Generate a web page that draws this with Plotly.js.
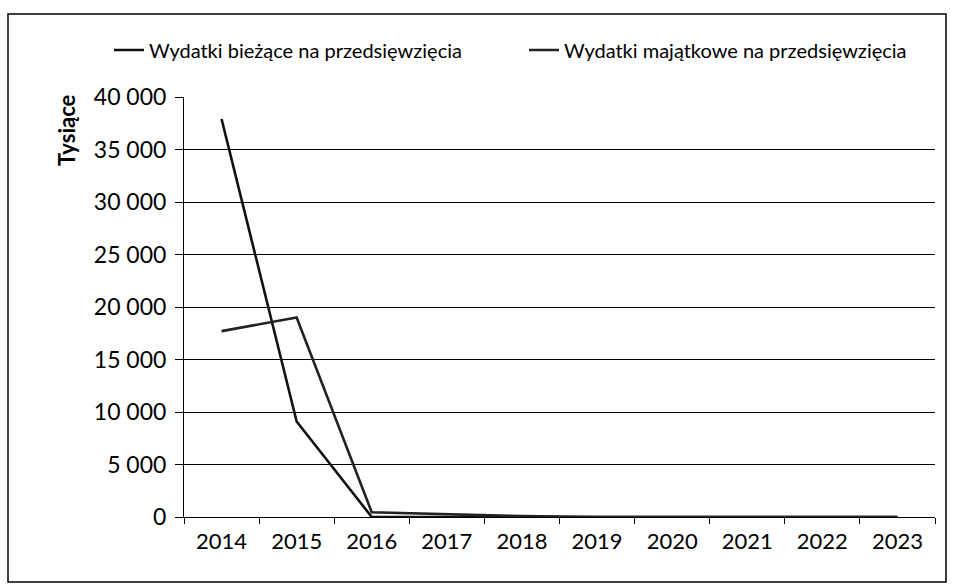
<!DOCTYPE html>
<html>
<head>
<meta charset="utf-8">
<script src="https://cdn.plot.ly/plotly-3.0.1.min.js"></script>
<style>html,body{margin:0;padding:0;background:#fff;}#chart{width:955px;height:587px;}</style>
</head>
<body>
<div id="chart"></div>
<script>
const years = ['2014','2015','2016','2017','2018','2019','2020','2021','2022','2023'];
const biezace = [37900, 9100, 0, 0, 0, 0, 0, 0, 0, 0];
const majatkowe = [17700, 19000, 450, 250, 80, 0, 0, 0, 0, 0];
const seriesNames = ['Wydatki bieżące na przedsięwzięcia', 'Wydatki majątkowe na przedsięwzięcia'];
const yTitle = 'Tysiące';

const L = 184, R = 20, T = 97, B = 70, W = 955, H = 587;
const pw = W - L - R, ph = H - T - B;
const px = v => (v - L) / pw;
const py = v => (H - B - v) / ph;

const traces = [
  {x: years, y: biezace, name: seriesNames[0], type: 'scatter', mode: 'lines',
   line: {color: '#111', width: 2.6}, legend: 'legend'},
  {x: years, y: majatkowe, name: seriesNames[1], type: 'scatter', mode: 'lines',
   line: {color: '#222', width: 2.6}, legend: 'legend2'}
];

const legBase = {orientation: 'h', xref: 'container', yref: 'container',
  y: 1 - 50/587, xanchor: 'left', yanchor: 'middle',
  font: {size: 20, family: 'Lato, sans-serif'}, bgcolor: 'rgba(0,0,0,0)'};

const layout = {
  width: W, height: H,
  margin: {l: L, r: R, t: T, b: B},
  paper_bgcolor: '#fff', plot_bgcolor: '#fff',
  separators: ', ',
  font: {family: 'Lato, sans-serif', color: '#000', size: 21},
  showlegend: true,
  legend: Object.assign({}, legBase, {x: 109/955}),
  legend2: Object.assign({}, legBase, {x: 524/955}),
  xaxis: {type: 'category', range: [-0.5, 9.5], showline: true, linecolor: '#000', linewidth: 1,
          ticks: 'outside', tickson: 'boundaries', ticklen: 6, tickcolor: '#000',
          showgrid: false, zeroline: false, tickfont: {size: 22}, ticklabelstandoff: 5},
  yaxis: {range: [0, 40000], dtick: 5000, tickformat: ',d',
          showline: true, linecolor: '#000', linewidth: 1,
          ticks: 'outside', ticklen: 8, tickcolor: '#000',
          showgrid: true, gridcolor: '#000', gridwidth: 1, zeroline: false,
          tickfont: {size: 23}, ticklabelstandoff: 4},
  annotations: [
    {text: '<b>' + yTitle + '</b>', xref: 'paper', yref: 'paper',
     x: px(66), y: py(130), textangle: -90, showarrow: false,
     font: {size: 22, family: 'Lato, sans-serif'}, xanchor: 'center', yanchor: 'middle'}
  ],
  shapes: [
    {type: 'rect', xref: 'paper', yref: 'paper',
     x0: px(8), x1: px(946), y0: py(582), y1: py(14),
     line: {color: '#000', width: 1.5}}
  ]
};

Plotly.newPlot('chart', traces, layout, {displayModeBar: false, staticPlot: true});
</script>
</body>
</html>
